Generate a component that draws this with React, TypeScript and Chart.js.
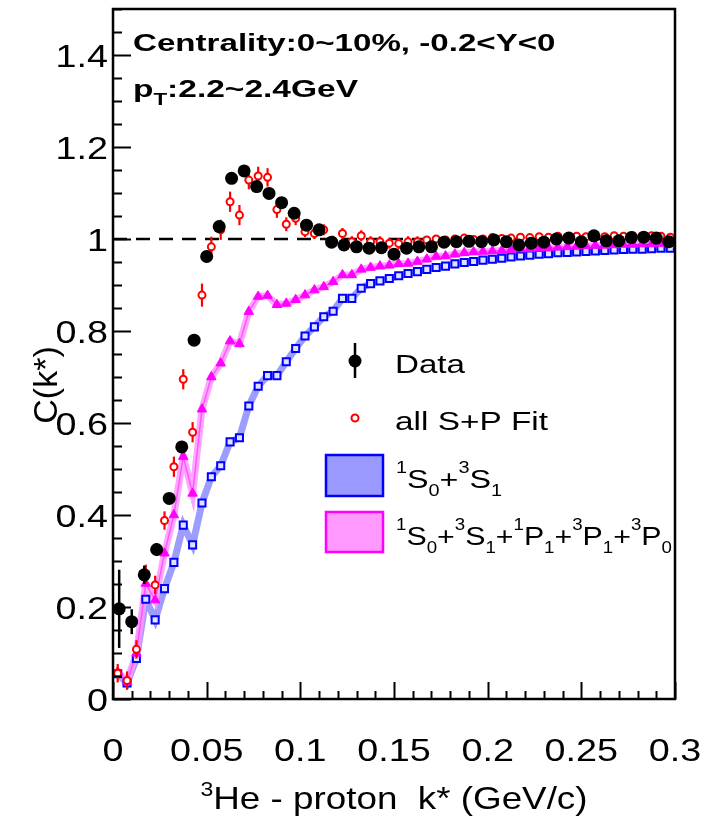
import React, { useEffect, useRef } from 'react';
import { Chart, registerables } from 'chart.js';

Chart.register(...registerables);

// ---------- data ----------
const dataK = [
  0.0033, 0.0100, 0.0167, 0.0233, 0.0300, 0.0367, 0.0433, 0.0500, 0.0567, 0.0633,
  0.0700, 0.0767, 0.0833, 0.0900, 0.0967, 0.1033, 0.1100, 0.1167, 0.1233, 0.1300,
  0.1367, 0.1433, 0.1500, 0.1567, 0.1633, 0.1700, 0.1767, 0.1833, 0.1900, 0.1967,
  0.2033, 0.2100, 0.2167, 0.2233, 0.2300, 0.2367, 0.2433, 0.2500, 0.2567, 0.2633,
  0.2700, 0.2767, 0.2833, 0.2900, 0.2967,
];
const dataC = [
  0.196, 0.168, 0.270, 0.325, 0.436, 0.548, 0.780, 0.962, 1.027, 1.132,
  1.148, 1.114, 1.099, 1.079, 1.056, 1.030, 1.020, 0.993, 0.987, 0.983,
  0.980, 0.981, 0.967, 0.980, 0.983, 0.983, 0.993, 0.994, 0.995, 0.994,
  0.998, 0.994, 0.987, 0.991, 0.993, 1.000, 1.002, 0.994, 1.007, 0.996,
  0.996, 1.003, 1.004, 1.002, 0.994,
];
const dataErr = [
  0.085, 0.027, 0.020, 0.014, 0.012, 0.011, 0.010, 0.012, 0.012, 0.012,
  0.010, 0.009, 0.008, 0.008, 0.008, 0.008, 0.008, 0.008, 0.008, 0.008,
  0.008, 0.008, 0.008, 0.008, 0.008, 0.008, 0.008, 0.008, 0.008, 0.008,
  0.008, 0.008, 0.008, 0.008, 0.008, 0.008, 0.008, 0.008, 0.008, 0.008,
  0.008, 0.008, 0.008, 0.008, 0.008,
];

const theoryK = [
  0.0025, 0.0075, 0.0125, 0.0175, 0.0225, 0.0275, 0.0325, 0.0375, 0.0425, 0.0475,
  0.0525, 0.0575, 0.0625, 0.0675, 0.0725, 0.0775, 0.0825, 0.0875, 0.0925, 0.0975,
  0.1025, 0.1075, 0.1125, 0.1175, 0.1225, 0.1275, 0.1325, 0.1375, 0.1425, 0.1475,
  0.1525, 0.1575, 0.1625, 0.1675, 0.1725, 0.1775, 0.1825, 0.1875, 0.1925, 0.1975,
  0.2025, 0.2075, 0.2125, 0.2175, 0.2225, 0.2275, 0.2325, 0.2375, 0.2425, 0.2475,
  0.2525, 0.2575, 0.2625, 0.2675, 0.2725, 0.2775, 0.2825, 0.2875, 0.2925, 0.2975,
];
const fitC = [
  0.056, 0.040, 0.108, 0.272, 0.248, 0.388, 0.505, 0.695, 0.580, 0.878,
  0.983, 1.020, 1.081, 1.052, 1.128, 1.137, 1.134, 1.064, 1.032, 1.045,
  1.016, 1.012, 1.020, 0.995, 1.012, 0.994, 1.007, 0.994, 0.994, 0.991,
  0.990, 0.994, 0.994, 0.998, 1.000, 0.998, 1.000, 1.002, 0.999, 1.000,
  1.003, 1.001, 1.002, 1.004, 1.003, 1.005, 1.004, 1.006, 1.004, 1.006,
  1.005, 1.006, 1.005, 1.007, 1.006, 1.007, 1.006, 1.007, 1.006, 1.004,
];
const fitErr = [
  0.020, 0.020, 0.020, 0.020, 0.020, 0.020, 0.022, 0.022, 0.022, 0.025,
  0.022, 0.022, 0.022, 0.022, 0.020, 0.020, 0.020, 0.018, 0.015, 0.015,
  0.012, 0.012, 0.012, 0.012, 0.012, 0.012, 0.012, 0.012, 0.012, 0.012,
  0.012, 0.012, 0.012, 0.008, 0.008, 0.008, 0.008, 0.008, 0.008, 0.008,
  0.008, 0.008, 0.008, 0.008, 0.008, 0.008, 0.008, 0.008, 0.008, 0.008,
  0.008, 0.008, 0.008, 0.008, 0.008, 0.008, 0.008, 0.008, 0.008, 0.008,
];
const sWaveC = [
  0.055, 0.035, 0.088, 0.217, 0.172, 0.240, 0.297, 0.378, 0.335, 0.426,
  0.483, 0.507, 0.559, 0.568, 0.637, 0.680, 0.703, 0.703, 0.733, 0.762,
  0.789, 0.809, 0.831, 0.843, 0.871, 0.871, 0.893, 0.903, 0.909, 0.914,
  0.920, 0.925, 0.929, 0.934, 0.938, 0.941, 0.946, 0.949, 0.951, 0.954,
  0.956, 0.958, 0.961, 0.963, 0.965, 0.967, 0.968, 0.970, 0.971, 0.972,
  0.973, 0.974, 0.975, 0.976, 0.977, 0.978, 0.978, 0.979, 0.980, 0.980,
];
const spWaveC = [
  0.059, 0.038, 0.099, 0.251, 0.215, 0.317, 0.400, 0.527, 0.447, 0.630,
  0.700, 0.730, 0.778, 0.772, 0.842, 0.875, 0.877, 0.857, 0.860, 0.868,
  0.878, 0.889, 0.896, 0.907, 0.922, 0.922, 0.934, 0.938, 0.941, 0.943,
  0.946, 0.947, 0.951, 0.956, 0.962, 0.963, 0.967, 0.970, 0.972, 0.973,
  0.974, 0.975, 0.977, 0.978, 0.979, 0.980, 0.981, 0.982, 0.983, 0.984,
  0.985, 0.986, 0.986, 0.987, 0.988, 0.988, 0.989, 0.989, 0.990, 0.990,
];

const xTickValues = [0, 0.05, 0.1, 0.15, 0.2, 0.25, 0.3];
const xTickLabels = ['0', '0.05', '0.1', '0.15', '0.2', '0.25', '0.3'];
const yTickValues = [0, 0.2, 0.4, 0.6, 0.8, 1, 1.2, 1.4];
const yTickLabels = ['0', '0.2', '0.4', '0.6', '0.8', '1', '1.2', '1.4'];

const FONT = '"Liberation Sans", Arial, Helvetica, sans-serif';

type Run = { t: string; size: number; dy?: number; bold?: boolean };

function drawRuns(
  ctx: CanvasRenderingContext2D,
  runs: Run[],
  x: number,
  y: number,
  opts: { width?: number; sx?: number; align?: 'left' | 'center' | 'right' } = {}
) {
  let total = 0;
  for (const r of runs) {
    ctx.font = `${r.bold ? 'bold ' : ''}${r.size}px ${FONT}`;
    total += ctx.measureText(r.t).width;
  }
  const sx = opts.width ? opts.width / total : opts.sx ?? 1;
  const w = total * sx;
  const align = opts.align ?? 'left';
  const start = align === 'center' ? x - w / 2 : align === 'right' ? x - w : x;
  ctx.save();
  ctx.translate(start, y);
  ctx.scale(sx, 1);
  ctx.textAlign = 'left';
  ctx.textBaseline = 'alphabetic';
  ctx.fillStyle = '#000';
  let cx = 0;
  for (const r of runs) {
    ctx.font = `${r.bold ? 'bold ' : ''}${r.size}px ${FONT}`;
    ctx.fillText(r.t, cx, r.dy ?? 0);
    cx += ctx.measureText(r.t).width;
  }
  ctx.restore();
}

const IDX_RED = 5;
const IDX_BLACK = 6;

const overlayPlugin = {
  id: 'overlay',
  beforeDatasetsDraw(chart: any) {
    const { ctx, chartArea: a, scales } = chart;
    const ys = scales.y;
    ctx.save();
    ctx.strokeStyle = '#000';
    ctx.lineWidth = 2.5;
    ctx.setLineDash([14, 9]);
    ctx.beginPath();
    const y1 = ys.getPixelForValue(1);
    ctx.moveTo(a.left, y1);
    ctx.lineTo(a.right, y1);
    ctx.stroke();
    ctx.restore();
  },
  beforeDatasetDraw(chart: any, args: any) {
    const { ctx, chartArea: a, scales } = chart;
    const xs = scales.x;
    const ys = scales.y;
    if (args.index !== IDX_RED && args.index !== IDX_BLACK) return;
    ctx.save();
    ctx.beginPath();
    ctx.rect(a.left, a.top, a.right - a.left, a.bottom - a.top);
    ctx.clip();
    if (args.index === IDX_RED) {
      ctx.strokeStyle = '#ff0000';
      ctx.lineWidth = 2.2;
      theoryK.forEach((k, i) => {
        const px = xs.getPixelForValue(k);
        ctx.beginPath();
        ctx.moveTo(px, ys.getPixelForValue(fitC[i] - fitErr[i]));
        ctx.lineTo(px, ys.getPixelForValue(fitC[i] + fitErr[i]));
        ctx.stroke();
      });
    } else {
      ctx.strokeStyle = '#000';
      ctx.lineWidth = 2.5;
      dataK.forEach((k, i) => {
        const px = xs.getPixelForValue(k);
        ctx.beginPath();
        ctx.moveTo(px, ys.getPixelForValue(dataC[i] - dataErr[i]));
        ctx.lineTo(px, ys.getPixelForValue(dataC[i] + dataErr[i]));
        ctx.stroke();
      });
    }
    ctx.restore();
  },
  afterDraw(chart: any) {
    const { ctx, chartArea: a, scales } = chart;
    const xs = scales.x;
    const ys = scales.y;
    ctx.save();
    // frame
    ctx.strokeStyle = '#000';
    ctx.lineWidth = 2.5;
    ctx.strokeRect(a.left, a.top, a.right - a.left, a.bottom - a.top);
    // y ticks
    ctx.lineWidth = 2;
    for (let v = 0; v <= 1.5001; v += 0.05) {
      const major = Math.abs(v / 0.2 - Math.round(v / 0.2)) < 1e-6;
      const py = Math.round(ys.getPixelForValue(v)) + 0.5;
      ctx.beginPath();
      ctx.moveTo(a.left, py);
      ctx.lineTo(a.left + (major ? 18 : 9), py);
      ctx.stroke();
    }
    // x ticks
    for (let v = 0; v <= 0.3001; v += 0.01) {
      const major = Math.abs(v / 0.05 - Math.round(v / 0.05)) < 1e-6;
      const px = Math.round(xs.getPixelForValue(v)) + 0.5;
      ctx.beginPath();
      ctx.moveTo(px, a.bottom);
      ctx.lineTo(px, a.bottom - (major ? 17 : 8));
      ctx.stroke();
    }
    // tick labels
    yTickValues.forEach((v, i) => {
      drawRuns(ctx, [{ t: yTickLabels[i], size: 32 }], a.left - 5, ys.getPixelForValue(v) + 11.5, { sx: 1.18, align: 'right' });
    });
    xTickValues.forEach((v, i) => {
      drawRuns(ctx, [{ t: xTickLabels[i], size: 32 }], xs.getPixelForValue(v), 761, { sx: 1.18, align: 'center' });
    });
    // axis titles
    drawRuns(ctx, [
      { t: '3', size: 20, dy: -13 },
      { t: 'He - proton  k* (GeV/c)', size: 32 },
    ], 394, 809, { sx: 1.15, align: 'center' });
    ctx.save();
    ctx.translate(45, 385);
    ctx.rotate(-Math.PI / 2);
    drawRuns(ctx, [{ t: 'C(k*)', size: 34 }], 0, 12, { align: 'center' });
    ctx.restore();

    // header text
    drawRuns(ctx, [{ t: 'Centrality:0~10%, -0.2<Y<0', size: 24, bold: true }], 133, 51, { sx: 1.38 });
    drawRuns(ctx, [
      { t: 'p', size: 24, bold: true },
      { t: 'T', size: 16, bold: true, dy: 8 },
      { t: ':2.2~2.4GeV', size: 24, bold: true },
    ], 133, 97, { width: 225 });

    // legend
    ctx.lineWidth = 2.5;
    ctx.strokeStyle = '#000';
    ctx.beginPath();
    ctx.moveTo(355, 343);
    ctx.lineTo(355, 378);
    ctx.stroke();
    ctx.fillStyle = '#000';
    ctx.beginPath();
    ctx.arc(355, 361, 6.5, 0, Math.PI * 2);
    ctx.fill();
    drawRuns(ctx, [{ t: 'Data', size: 26 }], 395, 373, { width: 70 });

    ctx.strokeStyle = '#ff0000';
    ctx.lineWidth = 2;
    ctx.fillStyle = '#fff';
    ctx.beginPath();
    ctx.arc(355, 418, 3.5, 0, Math.PI * 2);
    ctx.fill();
    ctx.stroke();
    drawRuns(ctx, [{ t: 'all S+P Fit', size: 26 }], 395, 430, { width: 153 });

    ctx.fillStyle = '#9999ff';
    ctx.fillRect(326, 455, 57, 41);
    ctx.strokeStyle = '#0000ff';
    ctx.lineWidth = 2.5;
    ctx.strokeRect(326, 455, 57, 41);
    drawRuns(ctx, [
      { t: '1', size: 16, dy: -15 },
      { t: 'S', size: 26 },
      { t: '0', size: 16, dy: 8 },
      { t: '+', size: 26 },
      { t: '3', size: 16, dy: -15 },
      { t: 'S', size: 26 },
      { t: '1', size: 16, dy: 8 },
    ], 396, 488, { width: 106 });

    ctx.fillStyle = '#ff99ff';
    ctx.fillRect(326, 512, 57, 40);
    ctx.strokeStyle = '#ff00ff';
    ctx.lineWidth = 2.5;
    ctx.strokeRect(326, 512, 57, 40);
    drawRuns(ctx, [
      { t: '1', size: 16, dy: -15 },
      { t: 'S', size: 26 },
      { t: '0', size: 16, dy: 8 },
      { t: '+', size: 26 },
      { t: '3', size: 16, dy: -15 },
      { t: 'S', size: 26 },
      { t: '1', size: 16, dy: 8 },
      { t: '+', size: 26 },
      { t: '1', size: 16, dy: -15 },
      { t: 'P', size: 26 },
      { t: '1', size: 16, dy: 8 },
      { t: '+', size: 26 },
      { t: '3', size: 16, dy: -15 },
      { t: 'P', size: 26 },
      { t: '1', size: 16, dy: 8 },
      { t: '+', size: 26 },
      { t: '3', size: 16, dy: -15 },
      { t: 'P', size: 26 },
      { t: '0', size: 16, dy: 8 },
    ], 396, 545, { width: 276 });
    ctx.restore();
  },
};

export default function App() {
  const ref = useRef<HTMLCanvasElement | null>(null);
  useEffect(() => {
    if (!ref.current) return;
    const pts = (xs: number[], ys: number[]) => xs.map((x, i) => ({ x, y: ys[i] }));
    const chart = new Chart(ref.current, {
      type: 'scatter',
      data: {
        datasets: [
          {
            label: 'band S',
            data: pts(theoryK, sWaveC),
            showLine: true,
            borderColor: 'rgba(140,140,255,0.85)',
            borderWidth: 7,
            pointRadius: 0,
            order: 6,
          },
          {
            label: 'band SP',
            data: pts(theoryK, spWaveC),
            showLine: true,
            borderColor: 'rgba(255,150,255,0.85)',
            borderWidth: 7,
            pointRadius: 0,
            order: 5,
          },
          {
            label: 'line SP',
            data: pts(theoryK, spWaveC),
            showLine: true,
            borderColor: '#ff55ff',
            borderWidth: 1.5,
            pointRadius: 0,
            order: 4,
          },
          {
            label: '1S0+3S1',
            data: pts(theoryK, sWaveC),
            showLine: false,
            pointStyle: 'rect',
            pointRadius: 5,
            borderColor: '#0000ff',
            borderWidth: 2,
            backgroundColor: '#e0e0ff',
            order: 3,
          },
          {
            label: '1S0+3S1+1P1+3P1+3P0',
            data: pts(theoryK, spWaveC),
            showLine: false,
            pointStyle: 'triangle',
            pointRadius: 5.5,
            borderColor: '#ff00ff',
            borderWidth: 1,
            backgroundColor: '#ff00ff',
            order: 2,
          },
          {
            label: 'all S+P Fit',
            data: pts(theoryK, fitC),
            showLine: false,
            pointStyle: 'circle',
            pointRadius: 3.5,
            borderColor: '#ff0000',
            borderWidth: 2,
            backgroundColor: '#ffffff',
            order: 1,
          },
          {
            label: 'Data',
            data: pts(dataK, dataC),
            showLine: false,
            pointStyle: 'circle',
            pointRadius: 6.5,
            borderColor: '#000',
            borderWidth: 0,
            backgroundColor: '#000',
            order: 0,
          },
        ],
      },
      options: {
        responsive: false,
        animation: false,
        events: [],
        layout: { padding: { left: 0, right: 29, top: 9, bottom: 0 } },
        plugins: { legend: { display: false }, tooltip: { enabled: false }, title: { display: false } },
        scales: {
          x: {
            type: 'linear',
            min: 0,
            max: 0.3,
            grid: { display: false },
            border: { display: false },
            ticks: { display: false },
            afterFit: (s: any) => { s.height = 122; },
          },
          y: {
            type: 'linear',
            min: 0,
            max: 1.5,
            grid: { display: false },
            border: { display: false },
            ticks: { display: false },
            afterFit: (s: any) => { s.width = 113; },
          },
        },
      },
      plugins: [overlayPlugin],
    } as any);
    return () => chart.destroy();
  }, []);
  return (
    <div style={{ position: 'fixed', left: 0, top: 0, width: 704, height: 821, background: '#fff' }}>
      <canvas ref={ref} width={704} height={821} style={{ width: 704, height: 821, display: 'block' }} />
    </div>
  );
}
